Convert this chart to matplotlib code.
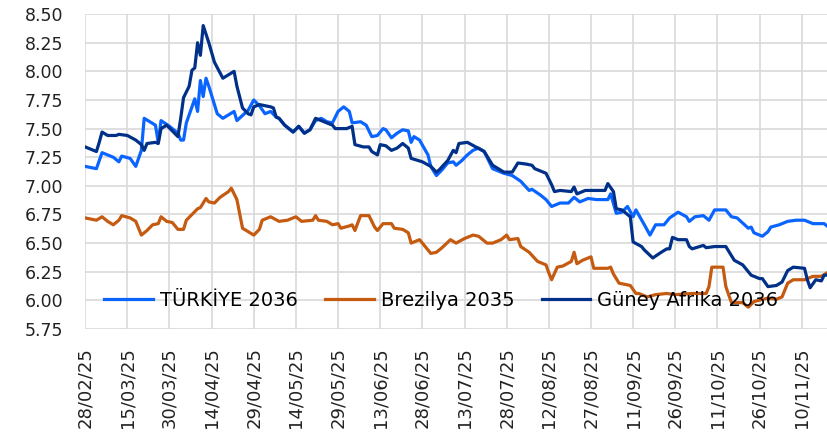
import numpy as np
import pandas as pd
import matplotlib
matplotlib.use("Agg")
import matplotlib.pyplot as plt
import matplotlib.dates as mdates

start = pd.Timestamp("2025-02-28")

# days after 28/02/25 and yields (%)
tr_days = [0, 4, 6, 8, 10, 12, 13, 16, 18, 20, 21, 23, 25, 26, 27, 30, 33, 34, 35, 36,
           38, 39, 40, 41, 42, 43, 44, 47, 49, 53, 54, 58, 60, 62, 64, 66, 68, 69, 71, 74,
           76, 78, 80, 82, 84, 86, 88, 90, 92, 94, 95, 98, 100, 102, 104, 106, 107, 109, 111, 113,
           115, 116, 117, 119, 122, 123, 125, 127, 129, 131, 132, 134, 136, 138, 140, 142, 145, 149, 152, 155,
           158, 159, 162, 164, 166, 169, 172, 174, 176, 179, 182, 186, 187, 189, 191, 193, 195, 196, 199, 201,
           203, 206, 208, 211, 214, 215, 217, 220, 222, 224, 228, 230, 232, 236, 237, 238, 241, 243, 244, 247,
           250, 253, 256, 259, 263, 264]
tr_vals = [7.17, 7.15, 7.29, 7.27, 7.25, 7.21, 7.26, 7.24, 7.17, 7.31, 7.59, 7.56, 7.53, 7.38, 7.57, 7.52, 7.46, 7.40, 7.40, 7.55,
           7.69, 7.76, 7.65, 7.92, 7.78, 7.94, 7.87, 7.63, 7.59, 7.65, 7.57, 7.66, 7.75, 7.70, 7.63, 7.65, 7.60, 7.59, 7.53, 7.47,
           7.52, 7.46, 7.49, 7.57, 7.59, 7.56, 7.55, 7.65, 7.69, 7.65, 7.55, 7.56, 7.53, 7.43, 7.44, 7.50, 7.49, 7.42, 7.46, 7.49,
           7.48, 7.38, 7.43, 7.40, 7.27, 7.17, 7.09, 7.14, 7.20, 7.21, 7.18, 7.22, 7.27, 7.31, 7.33, 7.30, 7.15, 7.11, 7.09, 7.04,
           6.96, 6.97, 6.92, 6.88, 6.82, 6.85, 6.85, 6.90, 6.86, 6.89, 6.88, 6.88, 6.93, 6.76, 6.77, 6.82, 6.73, 6.79, 6.66, 6.57,
           6.66, 6.66, 6.72, 6.77, 6.73, 6.69, 6.73, 6.74, 6.70, 6.79, 6.79, 6.73, 6.72, 6.63, 6.64, 6.59, 6.56, 6.60, 6.64, 6.66,
           6.69, 6.70, 6.70, 6.67, 6.67, 6.65]

br_days = [0, 4, 6, 8, 10, 12, 13, 16, 18, 20, 22, 24, 26, 27, 29, 31, 33, 35, 36, 38,
           40, 41, 43, 44, 46, 48, 51, 52, 54, 56, 60, 62, 63, 66, 69, 72, 75, 77, 81, 82,
           83, 86, 88, 90, 91, 94, 95, 96, 98, 101, 103, 104, 106, 109, 110, 113, 115, 116, 119, 120,
           123, 125, 127, 130, 132, 135, 138, 140, 143, 145, 148, 150, 151, 154, 155, 158, 161, 164, 165, 166,
           168, 170, 173, 174, 175, 177, 180, 181, 186, 187, 188, 190, 194, 196, 197, 200, 203, 207, 210, 216,
           221, 222, 223, 227, 228, 230, 234, 236, 238, 243, 246, 248, 250, 252, 256, 259, 262, 264]
br_vals = [6.72, 6.70, 6.73, 6.69, 6.66, 6.70, 6.74, 6.72, 6.69, 6.57, 6.61, 6.66, 6.67, 6.73, 6.69, 6.68, 6.62, 6.62, 6.70, 6.75,
           6.80, 6.81, 6.89, 6.86, 6.85, 6.90, 6.95, 6.98, 6.88, 6.63, 6.57, 6.62, 6.70, 6.73, 6.69, 6.70, 6.73, 6.69, 6.70, 6.74,
           6.70, 6.69, 6.66, 6.67, 6.63, 6.65, 6.66, 6.61, 6.74, 6.74, 6.64, 6.61, 6.67, 6.67, 6.63, 6.62, 6.59, 6.50, 6.53, 6.50,
           6.41, 6.42, 6.46, 6.53, 6.50, 6.54, 6.57, 6.56, 6.50, 6.50, 6.53, 6.57, 6.53, 6.54, 6.47, 6.42, 6.34, 6.31, 6.24, 6.18,
           6.29, 6.30, 6.34, 6.42, 6.32, 6.35, 6.38, 6.28, 6.28, 6.29, 6.23, 6.15, 6.13, 6.06, 6.06, 6.03, 6.05, 6.06, 6.05, 6.06,
           6.06, 6.12, 6.29, 6.29, 6.12, 5.98, 5.98, 5.94, 5.99, 6.02, 6.01, 6.03, 6.15, 6.18, 6.18, 6.21, 6.21, 6.24]

za_days = [0, 4, 5, 6, 8, 11, 12, 15, 18, 20, 21, 22, 25, 26, 27, 29, 33, 34, 35, 37,
           38, 39, 40, 41, 42, 44, 46, 49, 51, 53, 54, 56, 58, 59, 60, 62, 66, 67, 68, 69,
           71, 74, 76, 78, 80, 82, 84, 88, 89, 93, 95, 96, 99, 101, 102, 104, 105, 107, 109, 111,
           113, 115, 116, 120, 123, 125, 126, 129, 131, 132, 133, 136, 139, 142, 145, 149, 152, 154, 157, 159,
           160, 164, 166, 167, 169, 173, 174, 175, 178, 181, 185, 186, 188, 189, 191, 194, 195, 198, 199, 202,
           205, 207, 208, 209, 211, 214, 215, 216, 220, 221, 224, 228, 231, 234, 237, 240, 241, 243, 246, 248,
           250, 252, 256, 257, 258, 260, 262, 263, 264]
za_vals = [7.34, 7.30, 7.38, 7.47, 7.44, 7.44, 7.45, 7.44, 7.40, 7.36, 7.31, 7.37, 7.38, 7.37, 7.50, 7.53, 7.43, 7.59, 7.77, 7.87,
           8.01, 8.03, 8.25, 8.14, 8.40, 8.25, 8.08, 7.94, 7.97, 8.00, 7.87, 7.68, 7.63, 7.62, 7.69, 7.71, 7.69, 7.68, 7.60, 7.59,
           7.53, 7.47, 7.52, 7.46, 7.49, 7.59, 7.57, 7.53, 7.50, 7.50, 7.52, 7.36, 7.34, 7.34, 7.30, 7.27, 7.36, 7.35, 7.31, 7.33,
           7.37, 7.33, 7.24, 7.21, 7.17, 7.12, 7.14, 7.22, 7.31, 7.29, 7.37, 7.38, 7.34, 7.30, 7.18, 7.12, 7.12, 7.20, 7.19, 7.18,
           7.15, 7.11, 7.01, 6.95, 6.96, 6.95, 6.99, 6.93, 6.96, 6.96, 6.96, 7.02, 6.95, 6.80, 6.79, 6.73, 6.51, 6.47, 6.44, 6.37,
           6.42, 6.45, 6.45, 6.55, 6.53, 6.53, 6.47, 6.45, 6.48, 6.46, 6.47, 6.47, 6.35, 6.31, 6.22, 6.19, 6.19, 6.12, 6.13, 6.16,
           6.26, 6.29, 6.28, 6.18, 6.11, 6.18, 6.17, 6.22, 6.22]

labels = ["TÜRKİYE 2036", "Brezilya 2035", "Güney Afrika 2036"]
colors = ["#0a64ff", "#c55a11", "#003087"]

plt.rcParams['font.family'] = ['DejaVu Sans']
plt.rcParams['font.size'] = 12.5

fig = plt.figure(figsize=(8.27, 4.41), dpi=100)
ax = fig.add_axes([0.103, 0.254, 0.897, 0.714])

for days, vals, lab, c in zip([tr_days, br_days, za_days], [tr_vals, br_vals, za_vals], labels, colors):
    d = start + pd.to_timedelta(days, unit="D")
    ax.plot(d, vals, color=c, lw=2.3, label=lab)

ax.set_ylim(5.75, 8.5)
ax.set_yticks(np.arange(5.75, 8.51, 0.25))
ax.yaxis.set_major_formatter(plt.FormatStrFormatter("%.2f"))
ax.set_xlim(start, start + pd.Timedelta(days=264))
ax.set_xticks(pd.date_range(start, periods=18, freq="15D"))
ax.xaxis.set_major_formatter(mdates.DateFormatter("%d/%m/%y"))
plt.setp(ax.get_xticklabels(), rotation=90, fontsize=13)
ax.tick_params(length=0, labelcolor="#222222")
ax.tick_params(axis="y", pad=16)
ax.tick_params(axis="x", pad=13)

ax.grid(color="#d9d9d9", lw=1.2)
ax.set_axisbelow(True)
for s in ax.spines.values():
    s.set_visible(False)

ax.legend(loc="center", bbox_to_anchor=(0.48, 0.091), ncol=3, frameon=False, fontsize=14,
          handlelength=2.5, handletextpad=0.36, columnspacing=1.4)

fig.savefig("out.png", dpi=100)
